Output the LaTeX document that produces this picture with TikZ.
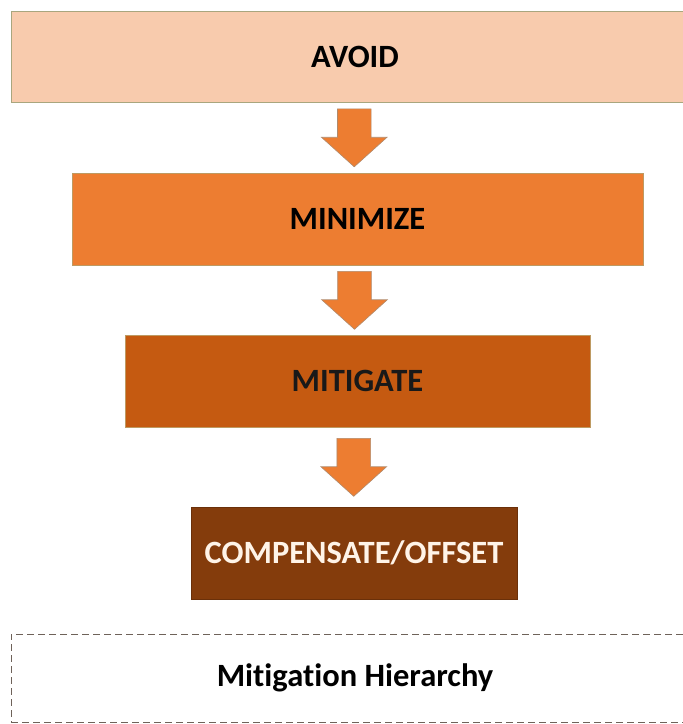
\documentclass[tikz,border=0pt]{standalone}
\usepackage{fontspec}
\setmainfont{Carlito}[Ligatures=NoCommon]
\usetikzlibrary{shapes.arrows,calc}

\definecolor{avoidfill}{HTML}{F8CBAD}
\definecolor{avoidline}{HTML}{A9A67E}
\definecolor{minfill}{HTML}{ED7D31}
\definecolor{mitfill}{HTML}{C55A11}
\definecolor{compfill}{HTML}{843C0C}
\definecolor{boxline}{HTML}{BE9A62}
\definecolor{arrowline}{HTML}{B08A6C}
\definecolor{dashline}{HTML}{6E6259}
\definecolor{lighttext}{HTML}{FFF4E8}

\begin{document}
\begin{tikzpicture}
[
	x=1pt, y=-1pt,
	stagebox/.style={rectangle,draw=boxline,line width=0.8pt,minimum height=92pt,inner sep=0pt,
		font=\fontsize{32.5}{38}\selectfont\bfseries},
	downarrow/.style={single arrow,draw=arrowline,fill=minfill,line width=0.6pt,inner sep=16.5pt,
		minimum height=58pt,single arrow head extend=16pt,
		single arrow tip angle=96,shape border rotate=270,anchor=tail},
	titlebox/.style={rectangle,draw=dashline,dash pattern=on 7pt off 4pt,line width=0.9pt,
		minimum width=688pt,minimum height=88pt,font=\fontsize{32.5}{38}\selectfont\bfseries}
]

	\useasboundingbox (0,0) rectangle (683,724);

	% stages
	\node[stagebox,draw=avoidline,fill=avoidfill,minimum width=688pt,minimum height=91pt] (avoid) at (355,56.5) {AVOID};
	\node[stagebox,fill=minfill,minimum width=571pt] (minimize) at (357.5,219) {MINIMIZE};
	\node[stagebox,fill=mitfill,text=black!90,minimum width=465pt] (mitigate) at (357.5,381) {MITIGATE};
	\node[stagebox,draw=compfill!80!black,fill=compfill,text=lighttext,minimum width=326pt] (compensate) at (354,553) {COMPENSATE/OFFSET};

	% arrows between stages (tail half an arrow above the midpoint)
	\node[downarrow] (a1) at ($(avoid.south)!0.5!(minimize.north)+(-2,-29)$) {};
	\node[downarrow] (a2) at ($(minimize.south)!0.5!(mitigate.north)+(-3,-29)$) {};
	\node[downarrow] (a3) at ($(mitigate.south)!0.5!(compensate.north)+(-2,-29)$) {};

	% caption
	\node[titlebox] (title) at (355,678) {Mitigation Hierarchy};

\end{tikzpicture}
\end{document}
